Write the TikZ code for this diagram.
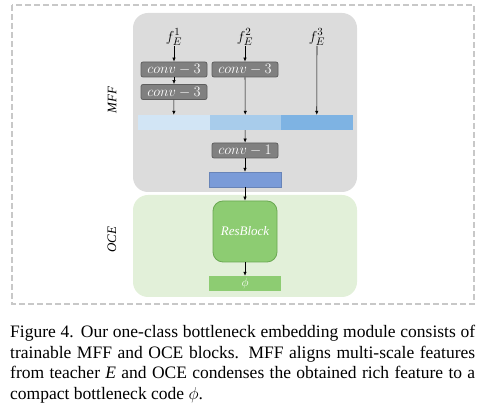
\documentclass[tikz,border=0pt]{standalone}
\usepackage{fontspec}
\setmainfont{Liberation Serif}
\usetikzlibrary{arrows.meta}
\definecolor{panelgray}{HTML}{DCDCDC}
\definecolor{panelgreen}{HTML}{E2F0D9}
\definecolor{convfill}{HTML}{808080}
\definecolor{convdraw}{HTML}{5E5E5E}
\definecolor{segA}{HTML}{D2E5F5}
\definecolor{segB}{HTML}{A8CCEB}
\definecolor{segC}{HTML}{7EB3E3}
\definecolor{fusedbar}{HTML}{7A9BD8}
\definecolor{resfill}{HTML}{8DCC72}
\definecolor{resdraw}{HTML}{6AA852}
\definecolor{phifill}{HTML}{8DCC72}
\definecolor{dashgray}{HTML}{C8C8C8}
\begin{document}
\begin{tikzpicture}[x=1pt,y=-1pt,
  convbox/.style={draw=convdraw, fill=convfill, line width=0.8pt, rounded corners=2pt,
    minimum width=66pt, minimum height=15pt, inner sep=0pt, text=white,
    font=\fontsize{13.5}{14}\selectfont},
  barseg/.style={minimum width=71.5pt, minimum height=15pt, inner sep=0pt},
  feat/.style={inner sep=0.5pt, font=\fontsize{15}{16}\selectfont},
  arr/.style={-{Latex[length=4pt,width=3.5pt]}, line width=0.6pt, black},
  sidelabel/.style={rotate=90, font=\itshape\fontsize{13}{14}\selectfont}
]
\useasboundingbox (0,0) rectangle (485,419);
% outer dashed frame
\draw[dashgray, line width=1.3pt, dash pattern=on 6pt off 3pt] (12,5) rectangle (474,304);
% panels
\fill[panelgray, rounded corners=15pt] (133,13) rectangle (357,192);
\fill[panelgreen, rounded corners=15pt] (133,195) rectangle (357,297);
\node[sidelabel] (mff) at (112,100) {MFF};
\node[sidelabel] (oce) at (112,240) {OCE};
% features
\node[feat] (f1) at (174,37) {$f_E^1$};
\node[feat] (f2) at (245,37) {$f_E^2$};
\node[feat] (f3) at (317,37) {$f_E^3$};
% convs
\node[convbox] (c1a) at (174,69.5) {$conv-3$};
\node[convbox] (c1b) at (174,92) {$conv-3$};
\node[convbox] (c2) at (245,69.5) {$conv-3$};
% concatenated bar
\node[barseg, fill=segA] (s1) at (173.75,122.5) {};
\node[barseg, fill=segB] (s2) at (245.25,122.5) {};
\node[barseg, fill=segC] (s3) at (316.75,122.5) {};
\node[convbox] (c3) at (245,150.5) {$conv-1$};
\node[barseg, fill=fusedbar, draw=fusedbar!85!black, line width=0.3pt] (fb) at (245,179.5) {};
% OCE
\node[draw=resdraw, fill=resfill, line width=0.8pt, rounded corners=10pt,
  minimum width=64pt, minimum height=61pt, inner sep=0pt, text=white,
  font=\itshape\fontsize{13}{14}\selectfont] (rb) at (245,231.5) {ResBlock};
\node[barseg, fill=phifill, text=white, font=\fontsize{13}{14}\selectfont] (phi) at (245,283.5) {$\phi$};
% arrows
\draw[arr] (f1) -- (c1a);
\draw[arr] (c1a) -- (c1b);
\draw[arr] (c1b) -- (s1);
\draw[arr] (f2) -- (c2);
\draw[arr] (c2) -- (s2);
\draw[arr] (f3) -- (s3);
\draw[arr] (s2) -- (c3);
\draw[arr] (c3) -- (fb);
\draw[arr] (fb) -- (rb);
\draw[arr] (rb) -- (phi);
% caption
\node[anchor=north west, inner sep=0pt, text width=465pt, align=justify,
  font=\fontsize{17.5}{20.5}\selectfont] (cap) at (10,325)
{Figure 4. Our one-class bottleneck embedding module consists of trainable MFF and OCE blocks. MFF aligns multi-scale features from teacher \textit{E} and OCE condenses the obtained rich feature to a compact bottleneck code $\phi$.};
\end{tikzpicture}
\end{document}
